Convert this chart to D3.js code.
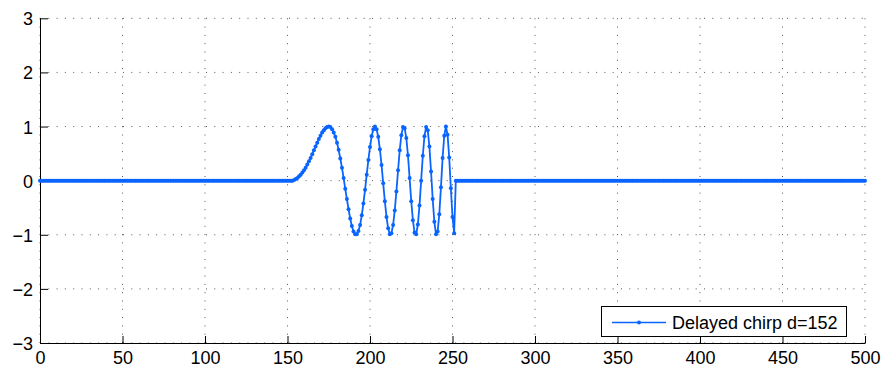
<!DOCTYPE html>
<html>
<head>
<meta charset="utf-8">
<script src="https://cdn.jsdelivr.net/npm/d3@7"></script>
<style>
    body { margin: 0; background: #fff; }
    svg { display: block; }
</style>
</head>
<body>
<div id="chart"></div>
<script>

// delay (first sample of the chirp) and total number of samples
const delay = 152;
const nSamples = 501;

// chirp samples, starting at x = delay
const chirp = [
    0, 0, 0.01, 0.03, 0.05, 0.08, 0.11, 0.15, 0.19, 0.24,
    0.30, 0.36, 0.42, 0.49, 0.56, 0.63, 0.70, 0.77, 0.83, 0.89,
    0.93, 0.97, 0.99, 1.00, 0.99, 0.95, 0.89, 0.81, 0.70, 0.57,
    0.41, 0.24, 0.05, -0.15, -0.34, -0.53, -0.70, -0.84, -0.94, -0.99,
    -0.99, -0.93, -0.82, -0.64, -0.42, -0.17, 0.11, 0.38, 0.62, 0.82,
    0.95, 1.00, 0.95, 0.81, 0.58, 0.29, -0.05, -0.38, -0.67, -0.88,
    -0.99, -0.97, -0.82, -0.55, -0.20, 0.19, 0.56, 0.84, 0.99, 0.97,
    0.79, 0.47, 0.05, -0.38, -0.73, -0.96, -0.99, -0.81, -0.46, 0.00,
    0.46, 0.82, 0.99, 0.93, 0.63, 0.17, -0.34, -0.76, -0.99, -0.94,
    -0.62, -0.12, 0.42, 0.83, 1.00, 0.85, 0.43, -0.14, -0.67, -0.97
];

const xTicks = [0, 50, 100, 150, 200, 250, 300, 350, 400, 450, 500];
const yTicks = [-3, -2, -1, 0, 1, 2, 3];
const legendLabel = "Delayed chirp d=152";

// signal is zero outside the chirp
let signal = d3.range(nSamples).map(i => ({
    x: i,
    y: (i >= delay && i < delay + chirp.length) ? chirp[i - delay] : 0
}));

let width = 883, height = 369;
let margin = {top: 18.3, right: 18, bottom: 26, left: 40};
let innerW = width - margin.left - margin.right;
let innerH = height - margin.top - margin.bottom;
let fontFamily = "'Liberation Sans', Arial, Helvetica, sans-serif";

let svg = d3.select("#chart").append("svg")
    .attr("width", width)
    .attr("height", height)
    .append("g")
    .attr("transform", `translate(${margin.left}, ${margin.top})`);

let x = d3.scaleLinear().domain([0, 500]).range([0, innerW]);
let y = d3.scaleLinear().domain([-3, 3]).range([innerH, 0]);

let lineColor = "#0a64ff";

// dotted grid
svg.append("g")
    .selectAll("line")
    .data(xTicks)
    .join("line")
    .attr("x1", d => x(d)).attr("x2", d => x(d))
    .attr("y1", 0).attr("y2", innerH)
    .attr("stroke", "#222")
    .attr("stroke-width", 1)
    .attr("stroke-dasharray", "1,7.3")
    .attr("opacity", 0.75);

svg.append("g")
    .selectAll("line")
    .data(yTicks)
    .join("line")
    .attr("x1", 0).attr("x2", innerW)
    .attr("y1", d => y(d)).attr("y2", d => y(d))
    .attr("stroke", "#222")
    .attr("stroke-width", 1)
    .attr("stroke-dasharray", "1,7.3")
    .attr("opacity", 0.75);

// axes
let fmt = d3.format("d");
let xAxis = d3.axisBottom(x).tickValues(xTicks).tickFormat(fmt)
    .tickSizeInner(-7).tickSizeOuter(0).tickPadding(8);
let yAxis = d3.axisLeft(y).tickValues(yTicks).tickFormat(fmt)
    .tickSizeInner(-8).tickSizeOuter(0).tickPadding(7);

let gx = svg.append("g")
    .attr("transform", `translate(0, ${innerH})`)
    .call(xAxis);
let gy = svg.append("g").call(yAxis);

[gx, gy].forEach(g => {
    g.attr("font-size", 18).attr("font-family", fontFamily);
    g.select(".domain").attr("stroke", "#000");
    g.selectAll(".tick line").attr("stroke", "#000");
    g.selectAll(".tick text").attr("fill", "#000");
});
gy.selectAll(".tick text").attr("dy", "0.36em");

// signal line and markers
let line = d3.line()
    .x(d => x(d.x))
    .y(d => y(d.y));

svg.append("path")
    .datum(signal)
    .attr("d", line)
    .attr("fill", "none")
    .attr("stroke", lineColor)
    .attr("stroke-width", 1.8)
    .attr("stroke-linejoin", "round");

svg.append("g")
    .selectAll("circle")
    .data(signal)
    .join("circle")
    .attr("cx", d => x(d.x))
    .attr("cy", d => y(d.y))
    .attr("r", 2)
    .attr("fill", lineColor);

// legend
let legend = svg.append("g")
    .attr("transform", `translate(${601 - margin.left}, ${306 - margin.top})`);

legend.append("rect")
    .attr("x", 0.5).attr("y", 0.5)
    .attr("width", 245).attr("height", 30)
    .attr("fill", "#fff")
    .attr("stroke", "#000")
    .attr("stroke-width", 1);

legend.append("line")
    .attr("x1", 11).attr("x2", 65)
    .attr("y1", 16.5).attr("y2", 16.5)
    .attr("stroke", lineColor)
    .attr("stroke-width", 1.5);

legend.append("circle")
    .attr("cx", 38).attr("cy", 16.5)
    .attr("r", 2)
    .attr("fill", lineColor);

legend.append("text")
    .attr("x", 71)
    .attr("y", 23)
    .attr("font-family", fontFamily)
    .attr("font-size", 18)
    .attr("fill", "#000")
    .text(legendLabel);

</script>
</body>
</html>
